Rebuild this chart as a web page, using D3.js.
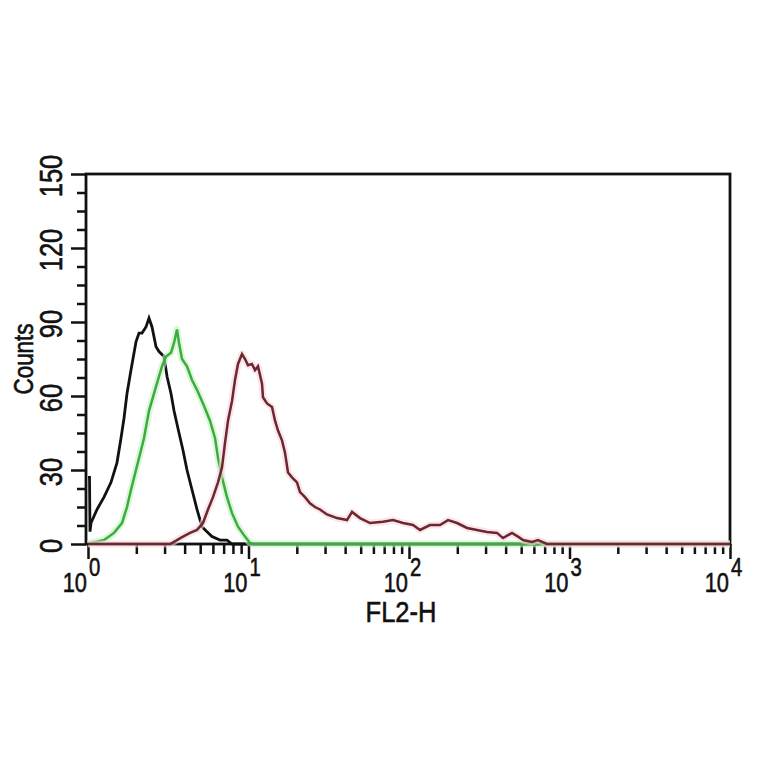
<!DOCTYPE html>
<html>
<head>
<meta charset="utf-8">
<script src="https://cdn.jsdelivr.net/npm/d3@7/dist/d3.min.js"></script>
<style>
  html, body { margin: 0; padding: 0; background: #fff; }
  svg { display: block; }
  text { font-family: "Liberation Sans", Arial, sans-serif; fill: #111; stroke: #111; stroke-width: 0.6; }
</style>
</head>
<body>
<svg id="chart" width="764" height="764"></svg>
<script>
// ---- data (FL2-H value, counts) ----
const blackX = [1.0, 1.022, 1.029, 1.044, 1.138, 1.258, 1.391, 1.516, 1.606, 1.676, 1.750, 1.853, 1.991, 2.078, 2.170, 2.298, 2.399, 2.505, 2.653, 2.770, 2.975, 3.106, 3.289, 3.435, 3.690, 3.907, 4.138, 4.446, 4.777, 5.132, 5.512, 5.924, 6.644, 7.345, 7.893, 10000];
const blackY = [27, 27, 5, 8.5, 14, 19, 25, 33, 43, 51, 61, 70.5, 82, 85.5, 85.5, 88, 91.6, 88, 80, 78, 76, 68, 61, 54, 45, 38, 30, 22, 14, 7, 5, 3, 1.6, 1.6, 0, 0];

const greenX = [1.0, 1.044, 1.258, 1.452, 1.628, 1.750, 1.853, 1.991, 2.139, 2.234, 2.399, 2.577, 2.770, 2.891, 3.062, 3.289, 3.435, 3.585, 3.690, 3.852, 4.138, 4.446, 4.777, 5.206, 5.755, 6.183, 6.456, 6.837, 7.345, 7.893, 8.603, 9.511, 10.22, 10.82, 10000];
const greenY = [0, 0.4, 1.6, 4.5, 8.5, 15, 22, 30, 38, 43, 54, 61, 68, 72, 76, 77.5, 81.5, 87, 81.5, 75, 72, 66.5, 62.5, 57, 50, 43, 35, 27, 19, 12.5, 7, 3, 0.4, 0, 0];

const redX = [1.0, 3.243, 3.585, 3.907, 4.321, 4.777, 5.206, 5.593, 6.009, 6.456, 6.837, 7.139, 7.453, 7.893, 8.240, 8.603, 9.110, 9.511, 9.929, 10.51, 10.98, 11.46, 12.14, 12.31, 13.04, 14.01, 14.63, 15.27, 16.17, 16.88, 17.63, 18.66, 20.05, 20.94, 22.49, 24.16, 25.96, 27.89, 30.83, 35.60, 41.09, 44.15, 49.52, 57.15, 68.87, 79.49, 91.75, 105.9, 117.1, 135.1, 156.0, 175.0, 199.2, 229.9, 265.3, 306.2, 353.5, 385.2, 438.2, 477.7, 513.3, 584.0, 636.5, 724.1, 10000];
const redY = [0, 0, 1.6, 3, 4.5, 5.7, 8.5, 14, 19, 25, 31, 41, 50, 58, 66.5, 73, 77, 75, 72.5, 73, 70.5, 72, 65, 59.5, 57, 55.5, 50, 46, 42, 37, 29, 27, 25, 21, 19, 16.5, 15, 14, 12, 10.5, 9.7, 13, 10.5, 8.5, 9, 9.7, 8.5, 7.7, 5.7, 7.7, 7.7, 9.7, 8.5, 6.5, 5.7, 4.9, 4.5, 2.4, 4.5, 3, 1.6, 0.8, 1.6, 0, 0];

const yMajorTicks = [0, 30, 60, 90, 120, 150];
const xDecades = [1, 10, 100, 1000, 10000];
const xExponents = ["0", "1", "2", "3", "4"];
const xTitle = "FL2-H";
const yTitle = "Counts";

// ---- layout ----
const svg = d3.select("#chart");
const x = d3.scaleLog().domain([1, 10000]).range([88, 730]);
const y = d3.scaleLinear().domain([0, 150]).range([544, 174]);

// minor ticks
const yMinor = d3.range(0, 150.01, 7.5).filter(v => !yMajorTicks.includes(v));
const xMinor = [];
for (let d = 0; d < 4; d++) for (let m = 2; m <= 9; m++) xMinor.push(m * Math.pow(10, d));

function styleAxis(g) {
  g.select(".domain").remove();
  g.selectAll("line").attr("stroke", "#111").attr("stroke-width", 2.5);
}

svg.append("g").attr("transform", `translate(${x.range()[0] - 2},0)`)
  .call(d3.axisLeft(y).tickValues(yMajorTicks).tickSize(15).tickFormat(""))
  .call(styleAxis);
svg.append("g").attr("transform", `translate(${x.range()[0] - 2},0)`)
  .call(d3.axisLeft(y).tickValues(yMinor).tickSize(9).tickFormat(""))
  .call(styleAxis);
svg.append("g").attr("transform", `translate(0,${y(0)})`)
  .call(d3.axisBottom(x).tickValues(xDecades).tickSize(15).tickFormat(""))
  .call(styleAxis);
svg.append("g").attr("transform", `translate(0,${y(0)})`)
  .call(d3.axisBottom(x).tickValues(xMinor).tickSize(10).tickFormat(""))
  .call(styleAxis);

// frame
svg.append("rect")
  .attr("x", x(1) - 2).attr("y", y(150))
  .attr("width", x(10000) - x(1) + 2).attr("height", y(0) - y(150))
  .attr("fill", "none").attr("stroke", "#111").attr("stroke-width", 2.8);

// curves
const line = d3.line().x(d => x(d[0])).y(d => y(d[1]));
const series = [
  { xs: blackX, ys: blackY, color: "#111111", halo: null, w: 2.8 },
  { xs: greenX, ys: greenY, color: "#3aae3a", halo: "#c8f0c8", w: 2.5 },
  { xs: redX, ys: redY, color: "#6e2630", halo: "#f5d8dc", w: 2.5 }
];
series.forEach(s => {
  const pts = s.xs.map((v, i) => [v, s.ys[i]]);
  if (s.halo) {
    svg.append("path").datum(pts).attr("d", line)
      .attr("fill", "none").attr("stroke", s.halo).attr("stroke-width", 7)
      .attr("stroke-linejoin", "round").attr("opacity", 0.6);
  }
  svg.append("path").datum(pts).attr("d", line)
    .attr("fill", "none").attr("stroke", s.color).attr("stroke-width", s.w)
    .attr("stroke-linejoin", "miter");
});

// y tick labels (rotated)
svg.append("g").selectAll("text").data(yMajorTicks).join("text")
  .attr("transform", d => `translate(62,${y(d) + 2}) rotate(-90) scale(0.8,1)`)
  .attr("text-anchor", "middle")
  .attr("font-size", 32)
  .text(d => d);

// y title
svg.append("text")
  .attr("transform", `translate(33,${y(75)}) rotate(-90) scale(0.8,1)`)
  .attr("text-anchor", "middle")
  .attr("font-size", 28)
  .text(yTitle);

// x tick labels 10^n
const xl = svg.append("g");
xDecades.forEach((v, i) => {
  xl.append("text")
    .attr("transform", `translate(${x(v) - 1},592) scale(0.78,1)`)
    .attr("text-anchor", "end")
    .attr("font-size", 28)
    .text("10");
  xl.append("text")
    .attr("transform", `translate(${x(v) + 1},576) scale(0.78,1)`)
    .attr("text-anchor", "start")
    .attr("font-size", 26)
    .text(xExponents[i]);
});

// x title
svg.append("text")
  .attr("transform", `translate(401,622) scale(0.88,1)`)
  .attr("text-anchor", "middle")
  .attr("font-size", 29)
  .text(xTitle);
</script>
</body>
</html>
